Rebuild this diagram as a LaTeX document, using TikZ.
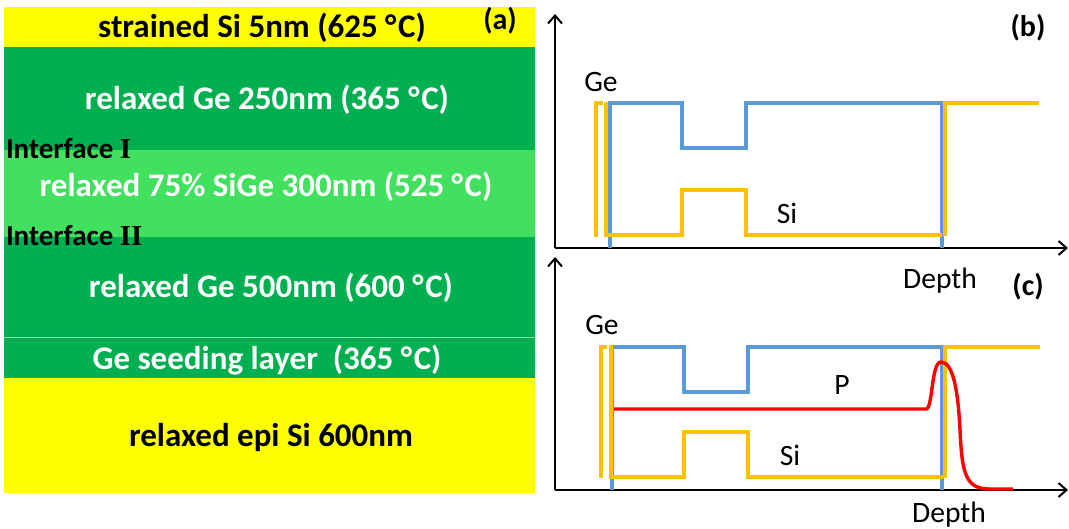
\documentclass[tikz,border=0pt]{standalone}
\usepackage{fontspec}
\setmainfont{Carlito}
\newfontfamily\romanfont{Liberation Serif}
\usepackage{xcolor}
\usepackage{tikz}
\usetikzlibrary{arrows.meta}

\definecolor{siyellow}{HTML}{FFFF00}
\definecolor{gedark}{HTML}{00B050}
\definecolor{sigelight}{HTML}{41E05E}
\definecolor{geblue}{HTML}{5B9BD5}
\definecolor{sigold}{HTML}{FFC000}
\definecolor{pred}{HTML}{FF0000}
\newcommand{\degC}{°\kern0.8pt C}

\begin{document}
\begin{tikzpicture}[x=0.5pt, y=-0.5pt, every node/.style={inner sep=0pt, outer sep=0pt},
  layertext/.style={font=\bfseries\fontsize{16.5}{19}\selectfont, text=white},
  ifacetext/.style={font=\bfseries\fontsize{14.5}{17}\selectfont, anchor=west},
  tagtext/.style={font=\bfseries\fontsize{15}{17}\selectfont},
  plottext/.style={font=\fontsize{14.8}{17}\selectfont},
  axis/.style={line width=1pt, -{Straight Barb[length=4pt, width=7pt]}},
  gecurve/.style={geblue, line width=1.7pt},
  sicurve/.style={sigold, line width=1.7pt},
  pcurve/.style={pred, line width=1.7pt}]
\useasboundingbox (0,0) rectangle (1069,529);

% (a) layer stack
\fill[siyellow] (4,7) rectangle (535,47);
\fill[gedark] (4,47) rectangle (535,150);
\fill[sigelight] (4,150) rectangle (535,237);
\fill[gedark] (4,237) rectangle (535,378);
\draw[white!55!gedark, line width=0.5pt] (4,337) -- (535,337);
\fill[siyellow] (4,378) rectangle (535,493);

\node (strained) [layertext, text=black] at (262,28) {strained Si 5nm (625 \degC)};
\node (taga) [tagtext] at (500,21) {(a)};
\node (ge250) [layertext] at (267,100) {relaxed Ge 250nm (365 \degC)};
\node (ifacei) [ifacetext] at (6,149) {Interface {\romanfont I}};
\node (sige) [layertext] at (266,187) {relaxed 75\% SiGe 300nm (525 \degC)};
\node (ifaceii) [ifacetext] at (6,236) {Interface {\romanfont II}};
\node (ge500) [layertext] at (271,288) {relaxed Ge 500nm (600 \degC)};
\node (seed) [layertext] at (267,360) {Ge seeding layer\ \ (365 \degC)};
\node (episi) [layertext, text=black] at (271,438) {relaxed epi Si 600nm};

% (b) profiles before anneal
\draw[axis] (555,248) -- (555,14);
\draw[axis] (555,248) -- (1068,248);
\draw[gecurve] (610,248) -- (610,103) -- (682,103) -- (682,148) -- (746,148) -- (746,103) -- (942,103) -- (942,248);
\draw[sicurve] (596,237) -- (596,103) -- (603,103);
\draw[sicurve] (606,102) -- (606,235) -- (682,235) -- (682,190) -- (746,190) -- (746,235) -- (942,235);
\draw[sicurve] (945,236) -- (945,103) -- (1039,103);
\node (geb) [plottext] at (601,82) {Ge};
\node (sib) [plottext] at (787,213) {Si};
\node (tagb) [tagtext] at (1028,28) {(b)};
\node (depthb) [plottext] at (940,281) {Depth};

% (c) profiles with P
\draw[axis] (555,490) -- (555,257);
\draw[axis] (555,490) -- (1068,490);
\draw[gecurve] (612,490) -- (612,347) -- (684,347) -- (684,392) -- (748,392) -- (748,347) -- (942,347) -- (942,490);
\draw[sicurve] (601,478) -- (601,347) -- (607,347);
\draw[sicurve] (611,345) -- (611,477) -- (684,477) -- (684,432) -- (748,432) -- (748,477) -- (943,477);
\draw[sicurve] (945,478) -- (945,347) -- (1040,347);
\draw[pcurve] (614,409) -- (926,409) .. controls (933,409) and (931,362) .. (941,362)
  .. controls (953,362) and (958,390) .. (960,430) .. controls (962,475) and (966,489) .. (990,489) -- (1013,489);
\node (gec) [plottext] at (602,325) {Ge};
\node (pc) [plottext] at (842,385) {P};
\node (sic) [plottext] at (790,455) {Si};
\node (tagc) [tagtext] at (1028,287) {(c)};
\node (depthc) [plottext] at (949,515) {Depth};
\end{tikzpicture}
\end{document}
